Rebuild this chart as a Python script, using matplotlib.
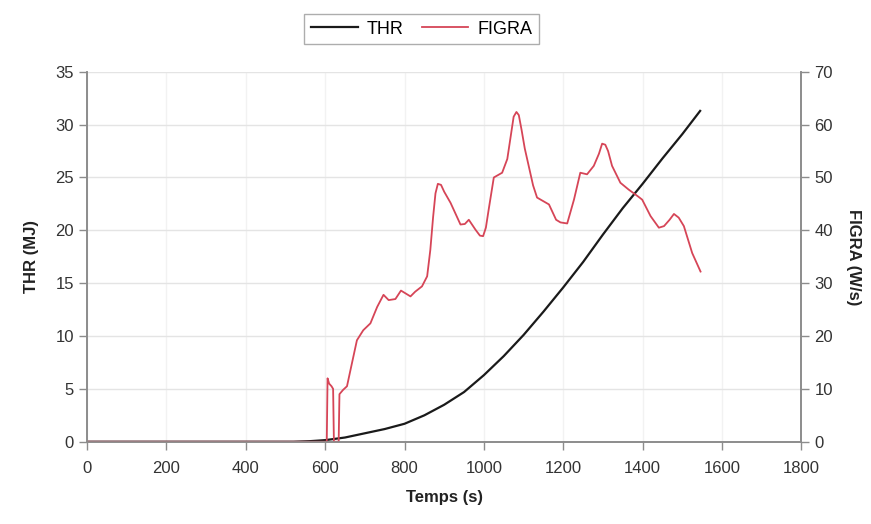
import matplotlib
matplotlib.use("Agg")
import matplotlib.pyplot as plt

plt.rcParams['font.family'] = ['Liberation Sans', 'DejaVu Sans']

# THR curve (MJ) vs time (s)
thrTime = [0, 520, 560, 600, 650, 700, 750, 800, 850, 900, 950, 1000, 1050,
           1100, 1150, 1200, 1250, 1300, 1350, 1400, 1450, 1500, 1545]
thrValues = [0, 0, 0.05, 0.15, 0.4, 0.8, 1.2, 1.7, 2.5, 3.5, 4.7, 6.3, 8.1,
             10.1, 12.3, 14.6, 17.0, 19.6, 22.1, 24.4, 26.8, 29.1, 31.3]

# FIGRA curve (W/s) vs time (s)
figraTime = [0, 604, 606, 610, 616, 620, 622, 628, 634, 636, 645, 655, 665,
             680, 696, 714, 731, 747, 760, 777, 791, 815, 827, 844, 857, 865,
             872, 878, 884, 892, 900, 916, 941, 952, 962, 979, 990, 998, 1005,
             1012, 1025, 1046, 1059, 1068, 1075, 1082, 1088, 1095, 1103, 1112,
             1124, 1134, 1164, 1182, 1193, 1210, 1227, 1243, 1260, 1277, 1290,
             1298, 1306, 1313, 1323, 1344, 1365, 1387, 1399, 1420, 1441, 1454,
             1468, 1479, 1491, 1504, 1525, 1546]
figraValues = [0, 0, 12, 11, 10.5, 10, 0, 0, 0, 9, 9.8, 10.5, 14,
               19.2, 21.1, 22.4, 25.5, 27.8, 26.8, 27.0, 28.6, 27.5, 28.4, 29.4, 31.3, 36.3,
               42.5, 47.0, 48.8, 48.6, 47.3, 45.2, 41.1, 41.2, 42.0, 40.1, 39.0, 38.9, 40.5,
               43.9, 50.0, 50.9, 53.5, 58.0, 61.5, 62.4, 61.8, 59.0, 55.5, 52.5,
               48.5, 46.2, 44.9, 42.0, 41.5, 41.3, 45.8, 50.9, 50.6, 52.2, 54.5,
               56.4, 56.2, 55.0, 52.2, 49.0, 47.7, 46.5, 45.8, 42.7, 40.5, 40.8,
               42.0, 43.1, 42.4, 40.8, 35.7, 32.2]

fig = plt.figure(figsize=(8.71, 5.24), dpi=100)
ax = fig.add_axes([0.1, 0.157, 0.82, 0.706])
ax2 = ax.twinx()

gridColor = '#ececec'
spineColor = '#8c8c8c'

l1, = ax.plot(thrTime, thrValues, color='#1a1a1a', lw=1.6, label='THR')
l2, = ax2.plot(figraTime, figraValues, color='#d64557', lw=1.3, label='FIGRA')

ax.set_xlim(0, 1800)
ax.set_ylim(0, 35)
ax2.set_ylim(0, 70)
ax.set_xticks(range(0, 1801, 200))
ax.set_yticks(range(0, 36, 5))
ax2.set_yticks(range(0, 71, 10))

ax.grid(True, axis='y', color='#e4e4e4', lw=1.0)
ax.grid(True, axis='x', color='#f2f2f2', lw=1.0)
ax.set_axisbelow(True)

for a in (ax, ax2):
    a.spines['top'].set_visible(False)
    for s in ('left', 'right', 'bottom'):
        a.spines[s].set_color(spineColor)
        a.spines[s].set_linewidth(1.2)
    a.tick_params(colors=spineColor, labelcolor='#333333', labelsize=12,
                  length=6, width=1.0, direction='out')
ax.tick_params(axis='x', pad=8)

ax.set_xlabel('Temps (s)', fontsize=12, fontweight='bold', color='#222222', labelpad=10)
ax.set_ylabel('THR (MJ)', fontsize=12, fontweight='bold', color='#222222', labelpad=12)
ax2.set_ylabel('FIGRA (W/s)', fontsize=12, fontweight='bold', color='#222222',
               rotation=270, labelpad=20)

leg = fig.legend(handles=[l1, l2], loc='upper center', bbox_to_anchor=(0.484, 0.99),
                 ncol=2, fontsize=13, frameon=True, fancybox=False,
                 handlelength=2.6, handletextpad=0.5, columnspacing=1.0, borderpad=0.35)
leg.get_frame().set_edgecolor('#999999')
leg.get_frame().set_linewidth(1.0)

fig.savefig('out.png', dpi=100)
